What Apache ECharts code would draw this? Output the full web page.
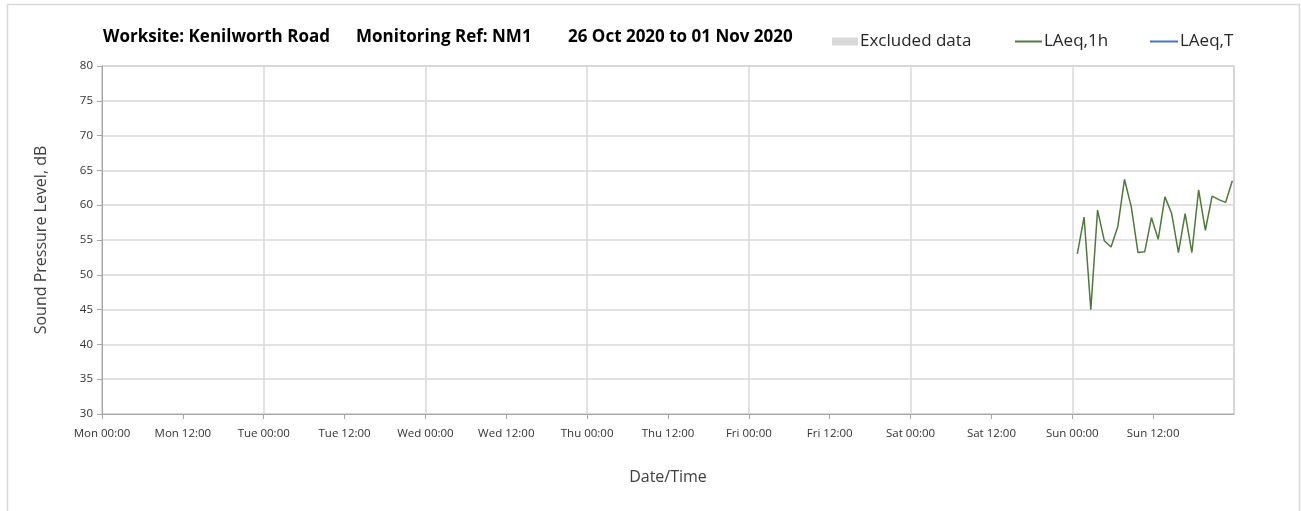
<!DOCTYPE html>
<html>
<head>
<meta charset="utf-8">
<script src="https://cdn.jsdelivr.net/npm/echarts@6/dist/echarts.min.js"></script>
<style>
  html, body { margin: 0; padding: 0; background: #fff; }
  #chart { width: 1301px; height: 511px; }
</style>
</head>
<body>
<div id="chart"></div>
<script>
// week start, axis runs Mon 00:00 -> next Mon 00:00
var weekStart = "2020-10-26T00:00";
var dayNames = ["Mon", "Tue", "Wed", "Thu", "Fri", "Sat", "Sun"];

// LAeq,1h readings (only Sunday has data)
var laeqTimes = [
  "2020-11-01T00:45", "2020-11-01T01:45", "2020-11-01T02:45", "2020-11-01T03:45",
  "2020-11-01T04:45", "2020-11-01T05:45", "2020-11-01T06:45", "2020-11-01T07:45",
  "2020-11-01T08:45", "2020-11-01T09:45", "2020-11-01T10:45", "2020-11-01T11:45",
  "2020-11-01T12:45", "2020-11-01T13:45", "2020-11-01T14:45", "2020-11-01T15:45",
  "2020-11-01T16:45", "2020-11-01T17:45", "2020-11-01T18:45", "2020-11-01T19:45",
  "2020-11-01T20:45", "2020-11-01T21:45", "2020-11-01T22:45", "2020-11-01T23:45"
];
var laeq1h = [
  53.0, 58.3, 45.0, 59.3, 54.9, 54.0, 56.9, 63.7,
  59.8, 53.2, 53.3, 58.2, 55.1, 61.2, 58.8, 53.2,
  58.8, 53.2, 62.2, 56.4, 61.3, 60.8, 60.4, 63.5
];
var laeqT = [];
var excluded = [];

var t0 = Date.parse(weekStart);
var seriesData = laeqTimes.map(function (t, i) {
  return [(Date.parse(t) - t0) / 3600000, laeq1h[i]];
});

var font = "'Open Sans', 'Noto Sans', sans-serif";
var gridColor = "#d9d9d9";
var axisColor = "#a6a6a6";
var legendText = { fontSize: 17, color: "#262626", fontFamily: font, padding: [0, 0, 0, -3] };

var myChart = echarts.init(document.getElementById("chart"));
var option = {
  animation: false,
  textStyle: { fontFamily: font },
  grid: {
    left: 102, right: 67, top: 66, bottom: 97,
    show: true, borderColor: axisColor, borderWidth: 1
  },
  graphic: [
    { type: "rect", left: 5, top: 2, shape: { width: 1292, height: 530 },
      style: { fill: "none", stroke: "#d9d9d9", lineWidth: 1.5 }, silent: true },
    { type: "text", left: 103, top: 29,
      style: { text: "Worksite: Kenilworth Road", font: "bold 17px " + font, fill: "#000" } },
    { type: "text", left: 356, top: 29,
      style: { text: "Monitoring Ref: NM1", font: "bold 17px " + font, fill: "#000" } },
    { type: "text", left: 568, top: 29,
      style: { text: "26 Oct 2020 to 01 Nov 2020", font: "bold 17px " + font, fill: "#000" } }
  ],
  legend: [
    {
      left: 832, top: 33, padding: 0, itemWidth: 26, itemHeight: 8, itemGap: 0,
      icon: "rect", data: ["Excluded data"], textStyle: legendText
    },
    {
      left: 1015, top: 33, padding: 0, itemWidth: 27, itemHeight: 2, itemGap: 0,
      icon: "rect", data: ["LAeq,1h"], textStyle: legendText
    },
    {
      left: 1150, top: 33, padding: 0, itemWidth: 28, itemHeight: 2, itemGap: 0,
      icon: "rect", data: ["LAeq,T"], textStyle: legendText
    }
  ],
  xAxis: [
    {
      type: "value", min: 0, max: 168, interval: 12,
      name: "Date/Time", nameLocation: "middle", nameGap: 55,
      nameTextStyle: { fontSize: 16, color: "#404040" },
      axisLine: { show: true, lineStyle: { color: axisColor } },
      axisTick: { show: true, length: 5, lineStyle: { color: axisColor } },
      splitLine: { show: false },
      axisLabel: {
        fontSize: 11.5, color: "#333", margin: 14, showMaxLabel: false,
        formatter: function (v) {
          if (v >= 168) return "";
          return dayNames[Math.floor(v / 24)] + " " + (v % 24 === 0 ? "00:00" : "12:00");
        }
      }
    },
    {
      // only for the daily vertical grid lines
      type: "value", min: 0, max: 168, interval: 24, position: "bottom",
      axisLine: { show: false }, axisTick: { show: false }, axisLabel: { show: false },
      splitLine: { show: true, lineStyle: { color: gridColor, width: 1.5 } }
    }
  ],
  yAxis: {
    type: "value", min: 30, max: 80, interval: 5,
    name: "Sound Pressure Level, dB", nameLocation: "middle", nameGap: 53,
    nameTextStyle: { fontSize: 16, color: "#404040" },
    axisLine: { show: true, lineStyle: { color: axisColor } },
    axisTick: { show: true, length: 5, lineStyle: { color: axisColor } },
    axisLabel: { fontSize: 11.5, color: "#333", margin: 9 },
    splitLine: { show: true, lineStyle: { color: gridColor, width: 1.5 } }
  },
  series: [
    {
      name: "Excluded data", type: "bar", data: excluded,
      itemStyle: { color: "#d9d9d9" }
    },
    {
      name: "LAeq,1h", type: "line", data: seriesData, symbol: "none",
      lineStyle: { color: "#4e7a3a", width: 1.5 }, itemStyle: { color: "#4e7a3a" }
    },
    {
      name: "LAeq,T", type: "line", data: laeqT, symbol: "none",
      lineStyle: { color: "#4472c4", width: 2 }, itemStyle: { color: "#4472c4" }
    }
  ]
};
myChart.setOption(option);
window.addEventListener("resize", function () { myChart.resize(); });
</script>
</body>
</html>
